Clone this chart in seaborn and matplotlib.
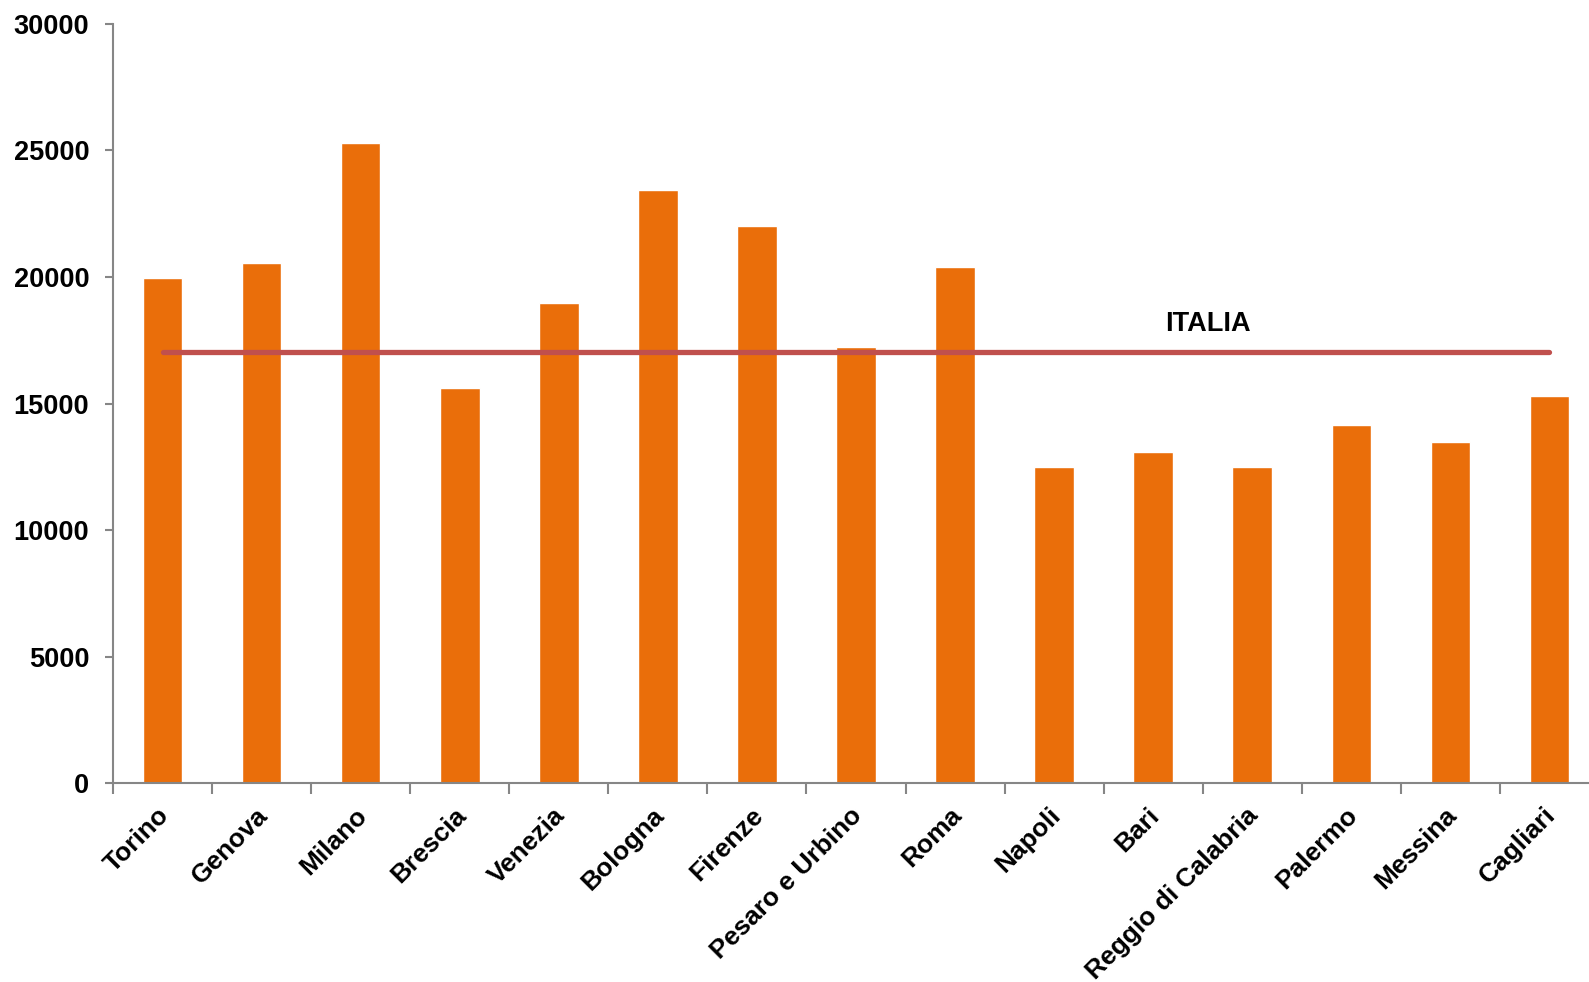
import matplotlib
matplotlib.use("Agg")
import matplotlib.pyplot as plt
import seaborn as sns
import numpy as np
import pandas as pd
from matplotlib.ticker import FixedLocator

cities = ["Torino", "Genova", "Milano", "Brescia", "Venezia", "Bologna", "Firenze",
          "Pesaro e Urbino", "Roma", "Napoli", "Bari", "Reggio di Calabria",
          "Palermo", "Messina", "Cagliari"]
values = [19950, 20550, 25280, 15630, 18980, 23430, 22030, 17220, 20390,
          12500, 13100, 12500, 14140, 13460, 15300]
italia_value = 17020
italia_label = "ITALIA"
y_ticks = [0, 5000, 10000, 15000, 20000, 25000, 30000]

sns.set_theme(style="white")
plt.rcParams['font.family'] = ['Liberation Sans', 'DejaVu Sans']
plt.rcParams['text.color'] = 'black'
plt.rcParams['xtick.color'] = 'black'
plt.rcParams['ytick.color'] = 'black'

fig = plt.figure(figsize=(15.89, 9.82), dpi=100)
ax = fig.add_axes([0.0711, 0.2026, 0.9352, 0.7730])

df = pd.DataFrame({"city": cities, "value": values})
sns.barplot(data=df, x="city", y="value", color="#EA6E0A", saturation=1,
            width=0.40, ax=ax)

n = len(cities)
ax.plot([0, n - 1], [italia_value, italia_value], color="#C0504D", lw=3.8,
        solid_capstyle="round", zorder=3)
ax.text(10.55, 18150, italia_label, ha="center", va="center",
        fontsize=19.5, fontweight="bold", color="black")

ax.set_xlim(-0.5, n - 0.5)
ax.set_ylim(0, 30000)
ax.set_yticks(y_ticks)
ax.set_yticklabels([str(t) for t in y_ticks], fontsize=19.5, fontweight="bold",
                   color="black")
ax.set_xlabel("")
ax.set_ylabel("")

# category labels drawn as rotated annotations under each bar
ax.set_xticks(range(n))
ax.set_xticklabels([""] * n)
for i, city in enumerate(cities):
    ax.annotate(city, xy=(i, 0), xycoords=("data", "axes fraction"),
                xytext=(-6, -20), textcoords="offset pixels",
                rotation=45, ha="right", va="top", rotation_mode="anchor",
                fontsize=19, fontweight="bold", color="black",
                annotation_clip=False)
ax.xaxis.set_minor_locator(FixedLocator(np.arange(-0.5, n, 1.0)))
ax.tick_params(axis="x", which="major", length=0)
ax.tick_params(axis="x", which="minor", length=8, width=1.5, color="#868686",
               direction="out", bottom=True)
ax.tick_params(axis="y", length=6, width=1.5, color="#868686", direction="out",
               left=True, pad=11)

for s in ["top", "right"]:
    ax.spines[s].set_visible(False)
for s in ["left", "bottom"]:
    ax.spines[s].set_color("#868686")
    ax.spines[s].set_linewidth(1.5)

fig.savefig("out.png", dpi=100)
